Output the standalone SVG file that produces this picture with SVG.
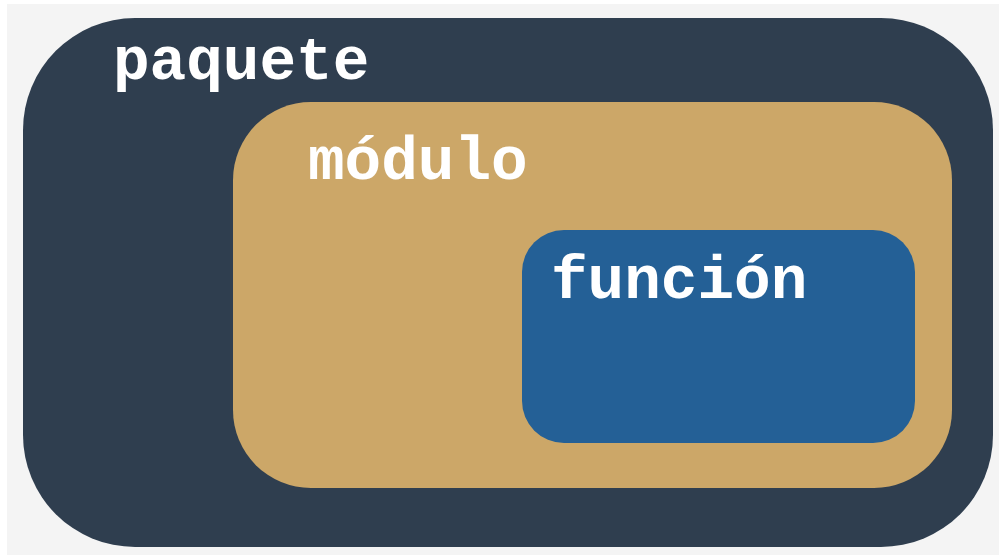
<svg xmlns="http://www.w3.org/2000/svg" width="999" height="555" viewBox="0 0 999 555">
<style>
.lbl{font-family:"Liberation Mono","Courier New",monospace;font-weight:bold;font-size:61px;fill:#ffffff}
</style>
<rect x="0" y="0" width="999" height="555" fill="#ffffff"/>
<rect x="7" y="4" width="992" height="551" fill="#f4f4f4"/>
<g id="paquete">
<rect x="23" y="18" width="970" height="529" rx="112" ry="112" fill="#2f3e4f"/>
<text class="lbl" x="113" y="79">paquete</text>
</g>
<g id="modulo">
<rect x="233" y="102" width="719" height="386" rx="78" ry="78" fill="#cca768"/>
<text class="lbl" x="308" y="179">módulo</text>
</g>
<g id="funcion">
<rect x="522" y="230" width="393" height="213" rx="42" ry="42" fill="#246096"/>
<text class="lbl" x="551" y="298">función</text>
</g>
<g id="connectors"/>
</svg>
